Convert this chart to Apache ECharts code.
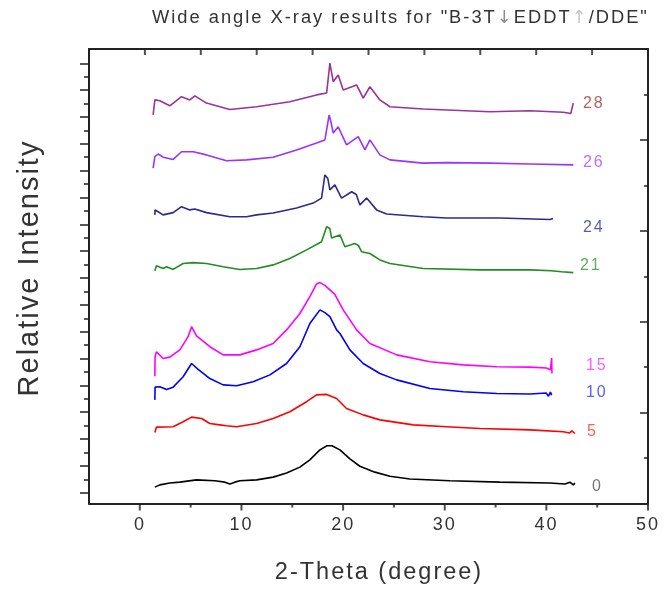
<!DOCTYPE html>
<html>
<head>
<meta charset="utf-8">
<script src="https://cdn.jsdelivr.net/npm/echarts@6/dist/echarts.min.js"></script>
<style>
  html, body { margin: 0; padding: 0; background: #ffffff; }
  #chart { width: 665px; height: 591px; }
</style>
</head>
<body>
<div id="chart"></div>
<script>
// WAXS patterns of B-3T/EDDT/DDE samples, stacked vertically (2-Theta in degrees, relative intensity)
const sampleNames = ['0', '5', '10', '15', '21', '24', '26', '28'];

const xrd0 = [[1.48,0.36],[1.97,0.41],[2.95,0.45],[3.94,0.47],[5.58,0.52],[7.38,0.50],[8.37,0.47],[8.86,0.43],[9.35,0.47],[9.84,0.50],[11.49,0.52],[13.12,0.58],[14.44,0.67],[15.75,0.80],[16.73,0.96],[17.72,1.18],[18.41,1.27],[18.90,1.27],[19.69,1.18],[20.67,0.98],[21.65,0.82],[23.13,0.69],[24.61,0.60],[26.57,0.54],[30.51,0.50],[35.43,0.47],[40.35,0.45],[41.83,0.43],[42.32,0.47],[42.65,0.41],[42.81,0.45]];
const xrd5 = [[1.48,1.56],[1.64,1.68],[3.28,1.69],[4.26,1.80],[5.09,1.90],[6.07,1.87],[6.89,1.76],[7.87,1.73],[8.50,1.71],[9.52,1.69],[11.49,1.76],[13.12,1.87],[14.76,2.02],[16.41,2.24],[17.39,2.39],[18.38,2.40],[19.36,2.31],[20.34,2.09],[21.98,1.95],[23.62,1.84],[26.90,1.73],[30.19,1.69],[33.46,1.65],[38.39,1.62],[41.66,1.58],[42.3,1.55],[42.5,1.60],[42.81,1.54]];
const xrd10 = [[1.48,2.28],[1.50,2.56],[1.97,2.57],[2.63,2.51],[3.28,2.56],[4.26,2.79],[5.09,3.08],[5.74,2.95],[6.89,2.75],[8.20,2.61],[9.52,2.59],[11.15,2.68],[12.80,2.83],[14.44,3.08],[15.75,3.45],[16.73,3.96],[17.72,4.26],[18.21,4.20],[18.70,4.11],[19.36,3.82],[19.69,3.74],[20.67,3.38],[21.98,3.08],[23.62,2.86],[25.27,2.72],[28.54,2.53],[31.82,2.46],[35.11,2.42],[38.39,2.41],[40.0,2.43],[40.2,2.36],[40.4,2.45],[40.52,2.38]];
const xrd15 = [[1.48,2.80],[1.50,3.23],[1.64,3.34],[2.29,3.19],[2.95,3.22],[3.94,3.38],[4.75,3.67],[5.09,3.89],[5.58,3.69],[6.89,3.45],[8.20,3.27],[9.84,3.27],[11.49,3.38],[13.12,3.52],[14.44,3.82],[15.75,4.18],[16.73,4.55],[17.39,4.83],[17.72,4.86],[18.21,4.80],[18.70,4.70],[19.19,4.60],[20.01,4.26],[21.33,3.82],[22.64,3.52],[25.27,3.27],[28.54,3.12],[31.82,3.05],[35.11,3.01],[38.39,3.00],[40.0,2.98],[40.4,2.94],[40.52,3.20],[40.55,2.86]];
const xrd21 = [[1.48,5.12],[1.64,5.23],[2.29,5.17],[2.63,5.21],[3.28,5.15],[4.26,5.28],[5.25,5.30],[6.56,5.28],[8.20,5.21],[9.84,5.15],[11.49,5.17],[13.12,5.25],[14.76,5.39],[16.41,5.58],[17.88,5.76],[18.38,6.09],[18.53,6.13],[18.70,6.05],[18.87,5.84],[19.69,5.91],[20.18,5.65],[21.16,5.72],[21.50,5.68],[21.82,5.54],[22.64,5.50],[23.62,5.36],[24.61,5.28],[27.88,5.17],[33.46,5.14],[38.39,5.14],[40.5,5.12],[41.5,5.10],[42.65,5.08]];
const xrd24 = [[1.48,6.35],[1.50,6.46],[1.80,6.42],[2.29,6.35],[3.28,6.40],[4.10,6.53],[4.92,6.46],[5.41,6.48],[6.56,6.40],[8.86,6.31],[10.50,6.31],[11.49,6.35],[13.12,6.39],[15.42,6.50],[17.06,6.61],[17.88,6.72],[18.21,7.23],[18.50,7.15],[18.70,6.90],[19.19,7.01],[19.85,6.72],[20.84,6.86],[21.30,6.80],[21.65,6.57],[22.31,6.72],[23.30,6.46],[24.28,6.37],[27.88,6.31],[30.19,6.28],[35.43,6.28],[40.35,6.25],[40.65,6.27]];
const xrd26 = [[1.31,7.38],[1.48,7.63],[1.80,7.69],[2.29,7.62],[3.28,7.57],[4.10,7.74],[5.25,7.74],[6.56,7.67],[8.53,7.54],[10.50,7.56],[13.12,7.62],[15.42,7.78],[17.39,7.93],[18.21,8.00],[18.63,8.55],[18.80,8.40],[19.03,8.15],[19.52,8.29],[20.34,7.89],[21.49,8.07],[22.15,7.78],[22.64,8.00],[23.62,7.67],[24.61,7.56],[27.88,7.49],[30.19,7.50],[34.45,7.49],[38.39,7.47],[42.65,7.45]];
const xrd28 = [[1.31,8.55],[1.48,8.88],[1.97,8.86],[2.95,8.75],[4.10,8.95],[4.92,8.88],[5.41,8.97],[6.56,8.81],[8.86,8.67],[11.49,8.73],[14.76,8.84],[17.39,8.99],[18.38,9.03],[18.70,9.69],[19.03,9.28],[19.52,9.43],[20.01,9.10],[21.33,9.21],[21.98,8.92],[22.64,9.17],[23.62,8.88],[24.61,8.73],[27.88,8.68],[34.45,8.62],[38.39,8.64],[41.66,8.61],[42.4,8.58],[42.65,8.81]];

const patterns = [xrd0, xrd5, xrd10, xrd15, xrd21, xrd24, xrd26, xrd28];
const xTickLabels = ['0', '10', '20', '30', '40', '50'];

// line and label colours, label placement (pixels from the curve's end level)
const lineColors = ['#000000', '#ff0000', '#0000ff', '#ff00ff', '#228b22', '#2b2b8f', '#9933ff', '#993399'];
const labelColors = ['#555555', '#ff3333', '#3333ff', '#ff33ff', '#339933', '#333399', '#a64dff', '#a03a3a'];
const labelShift = [[10, 4], [5, -2], [4, -3], [4, -8], [-2, -7], [1, 9], [1, -2], [1, 1]];
const labelAnchorX = 43.5;

// loose, plotter-style letter tracking for every piece of canvas text
const TRACKING = '2px';
(function () {
  const proto = CanvasRenderingContext2D.prototype;
  ['fillText', 'strokeText', 'measureText'].forEach(function (fn) {
    const orig = proto[fn];
    proto[fn] = function () {
      this.letterSpacing = TRACKING;
      return orig.apply(this, arguments);
    };
  });
})();

const FONT = 'Liberation Sans, Arial, sans-serif';
const ARROW_FONT = 'DejaVu Sans, sans-serif';
const INK = '#333333';
const TICK_COLOR = '#222222';
const tickStyle = () => ({ color: TICK_COLOR, width: 1.5 });
const frame = () => ({ show: true, onZero: false, lineStyle: { color: '#222222', width: 2 } });

// tick positions along the top edge (0..10 scale) and the 2-Theta axis
const range = (from, to, step) => { const out = []; for (let v = from; v <= to + 1e-9; v += step) out.push(v); return out; };
const topTickValues = range(0, 10, 1);
const bottomMajorValues = range(0, 50, 10);
const bottomMinorValues = range(5, 45, 10);

const chart = echarts.init(document.getElementById('chart'), null, { renderer: 'canvas' });

const lineSeries = patterns.map((pts, i) => ({
  name: sampleNames[i],
  type: 'line',
  xAxisIndex: 0,
  yAxisIndex: 0,
  data: pts,
  showSymbol: false,
  symbol: 'none',
  lineStyle: { color: lineColors[i], width: 1.6 },
  emphasis: { disabled: true },
  silent: true,
  z: 3
}));

const labelSeries = {
  type: 'scatter',
  xAxisIndex: 0,
  yAxisIndex: 0,
  symbolSize: 0,
  silent: true,
  data: patterns.map((pts, i) => ({
    value: [labelAnchorX, pts[pts.length - 1][1]],
    label: {
      show: true,
      formatter: sampleNames[i],
      position: 'inside',
      align: 'left',
      verticalAlign: 'middle',
      offset: labelShift[i],
      color: labelColors[i],
      fontFamily: FONT,
      fontSize: 16
    }
  })),
  z: 4
};

// short tick marks drawn as thin rectangles sitting on an edge of the frame
const tickMarks = (xAxisIndex, values, edgeY, len, down) => ({
  type: 'scatter',
  xAxisIndex: xAxisIndex,
  yAxisIndex: 0,
  silent: true,
  clip: false,
  symbol: 'rect',
  symbolSize: [2, len],
  symbolOffset: [0, down ? len / 2 : -len / 2],
  itemStyle: { color: TICK_COLOR },
  data: values.map((v) => [v, edgeY]),
  z: 5
});

const hiddenAxis = (g) => ({ gridIndex: g, type: 'value', show: false, axisLine: { onZero: false }, splitLine: { show: false } });

const option = {
  animation: false,
  backgroundColor: '#ffffff',
  grid: [
    { left: 89, right: 17, top: 49, bottom: 87.5 },          // plot frame
    { left: 89, right: 17, top: 63.3, bottom: 98.3 },        // left tick scale
    { left: 140, right: 17, top: 49, bottom: 87.5 }          // 2-Theta tick labels
  ],
  xAxis: [
    { gridIndex: 0, type: 'value', position: 'bottom', min: -5, max: 50, axisLine: frame(),
      axisTick: { show: false }, axisLabel: { show: false }, splitLine: { show: false } },
    { gridIndex: 0, type: 'value', position: 'top', min: 0, max: 10, axisLine: frame(),
      axisTick: { show: false }, axisLabel: { show: false }, splitLine: { show: false } },
    hiddenAxis(1),
    { gridIndex: 2, type: 'value', position: 'bottom', min: 0, max: 50, interval: 10,
      axisLine: { show: false, onZero: false },
      axisTick: { show: false },
      splitLine: { show: false },
      axisLabel: { show: true, margin: 12, color: INK, fontFamily: FONT, fontSize: 18,
        formatter: (v) => xTickLabels[Math.round(v / 10)] } }
  ],
  yAxis: [
    { gridIndex: 0, type: 'value', min: 0, max: 10, position: 'left', axisLine: frame(),
      axisTick: { show: false }, axisLabel: { show: false }, splitLine: { show: false } },
    { gridIndex: 0, type: 'value', min: 0, max: 10, interval: 2, position: 'right', axisLine: frame(),
      axisTick: { show: true, inside: true, length: 8, lineStyle: tickStyle() },
      minorTick: { show: true, splitNumber: 2, length: 4, lineStyle: tickStyle() },
      axisLabel: { show: false }, splitLine: { show: false } },
    { gridIndex: 1, type: 'value', min: 0, max: 32, interval: 2, position: 'left',
      axisLine: { show: false, onZero: false },
      axisTick: { show: true, inside: false, length: 9, lineStyle: tickStyle() },
      minorTick: { show: true, splitNumber: 2, length: 5, lineStyle: tickStyle() },
      axisLabel: { show: false }, splitLine: { show: false } },
    hiddenAxis(2)
  ],
  graphic: [
    {
      type: 'text', left: 152, top: 8, silent: true,
      style: {
        text: 'Wide angle X-ray results for "B-3T{dn|↓}EDDT{up|↑}/DDE"',
        fill: INK, font: '18.3px ' + FONT,
        rich: {
          dn: { fill: '#8c8c8c', fontSize: 18, fontFamily: ARROW_FONT },
          up: { fill: '#c6c6c6', fontSize: 18, fontFamily: ARROW_FONT }
        }
      }
    },
    {
      type: 'text', silent: true, x: 379, y: 573,
      style: { text: '2-Theta (degree)', fill: INK, font: '23.5px ' + FONT, align: 'center', verticalAlign: 'middle' }
    },
    {
      type: 'text', silent: true, rotation: Math.PI / 2, x: 30, y: 268,
      style: { text: 'Relative Intensity', fill: INK, font: '29px ' + FONT, align: 'center', verticalAlign: 'middle' }
    }
  ],
  series: [
    ...lineSeries,
    labelSeries,
    tickMarks(1, topTickValues, 10, 6, true),
    tickMarks(0, bottomMajorValues, 0, 7, true),
    tickMarks(0, bottomMinorValues, 0, 4, true)
  ]
};

chart.setOption(option);
</script>
</body>
</html>
